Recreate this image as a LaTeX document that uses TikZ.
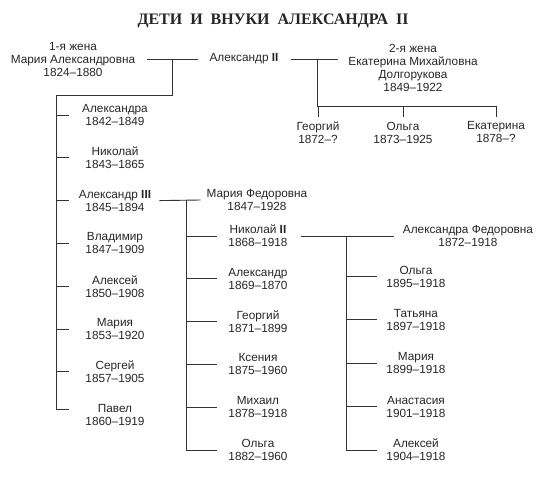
\documentclass[tikz,border=0pt]{standalone}
\usepackage{fontspec}
\setmainfont{Liberation Sans}
\newfontfamily\titlefont{Liberation Serif}
\begin{document}
\begin{tikzpicture}[x=1pt,y=-1pt,
  person/.style={align=center,inner sep=0pt,text=black!85,font=\fontsize{11.8}{13}\selectfont},
  tree/.style={line width=.9pt,draw=black!80}]
\useasboundingbox (0,0) rectangle (550,478);
\node[text=black!85,font=\titlefont\bfseries\fontsize{16}{18}\selectfont] (title) at (273,21) {ДЕТИ\ \ И\ \ ВНУКИ\ \ АЛЕКСАНДРА\ \ II};
% Александр II and his wives
\node[person] (wife1) at (73,60) {1-я жена\\Мария Александровна\\1824–1880};
\node[person] (alex2) at (244,59) {Александр \textbf{II}};
\node[person] (wife2) at (413,67.5) {2-я жена\\Екатерина Михайловна\\Долгорукова\\1849–1922};
\draw[tree] ([xshift=12pt]wife1.east |- alex2.west) -- ([xshift=-11pt]alex2.west);
\draw[tree] ([xshift=12pt]alex2.east) -- ([xshift=-10pt]alex2.east -| wife2.west);
\coordinate (j1) at (172,59);
\coordinate (t1) at (56,95);
\coordinate (j2) at (317,59);
\coordinate (bar2) at (317,106);
% children of the first marriage
\foreach \name/\years [count=\i] in {Александра/1842–1849,Николай/1843–1865,Александр \textbf{III}/1845–1894,Владимир/1847–1909,Алексей/1850–1908,Мария/1853–1920,Сергей/1857–1905,Павел/1860–1919}
{
	\node[person] (l\i) at (115,{115+42.8*(\i-1)}) {\name\\\years};
}
\draw[tree] (j1) -- (j1 |- t1) -- (t1) -- ([yshift=5.5pt]t1 |- l8);
\foreach \i in {1,...,7}
	\draw[tree] (t1 |- l\i) -- ++(13,0);
\draw[tree] ([yshift=5.5pt]t1 |- l8) -- ++(13,0);
% children of the second marriage
\foreach \name/\years/\x [count=\i] in {Георгий/1872–?/318,Ольга/1873–1925/403,Екатерина/1878–?/496}
{
	\node[person] (k\i) at (\x,132.5) {\name\\\years};
	\draw[tree] (k\i |- bar2) -- ++(0,11);
}
\draw[tree] (j2) -- (bar2) -- (k3 |- bar2);
% Александр III and Мария Федоровна
\node[person] (mf) at (257,200) {Мария Федоровна\\1847–1928};
\draw[tree] ([xshift=8pt]l3.east) -- ([xshift=-6pt]mf.west);
\coordinate (j3) at (186,200);
\foreach \name/\years [count=\i] in {Николай \textbf{II}/1868–1918,Александр/1869–1870,Георгий/1871–1899,Ксения/1875–1960,Михаил/1878–1918,Ольга/1882–1960}
{
	\node[person] (m\i) at (258,{236+42.8*(\i-1)}) {\name\\\years};
	\draw[tree] (j3 |- m\i) -- ++(31,0);
}
\draw[tree] (j3) -- (j3 |- m6);
% Николай II and Александра Федоровна
\node[person] (af) at (468,236) {Александра Федоровна\\1872–1918};
\draw[tree] ([xshift=13pt]m1.east) -- ([xshift=-9pt]af.west);
\coordinate (j4) at (346,236);
\foreach \name/\years [count=\i] in {Ольга/1895–1918,Татьяна/1897–1918,Мария/1899–1918,Анастасия/1901–1918,Алексей/1904–1918}
{
	\node[person] (r\i) at (416,{276.5+43.4*(\i-1)}) {\name\\\years};
	\draw[tree] (j4 |- r\i) -- ++(31,0);
}
\draw[tree] (j4) -- (j4 |- r5);
\end{tikzpicture}
\end{document}
